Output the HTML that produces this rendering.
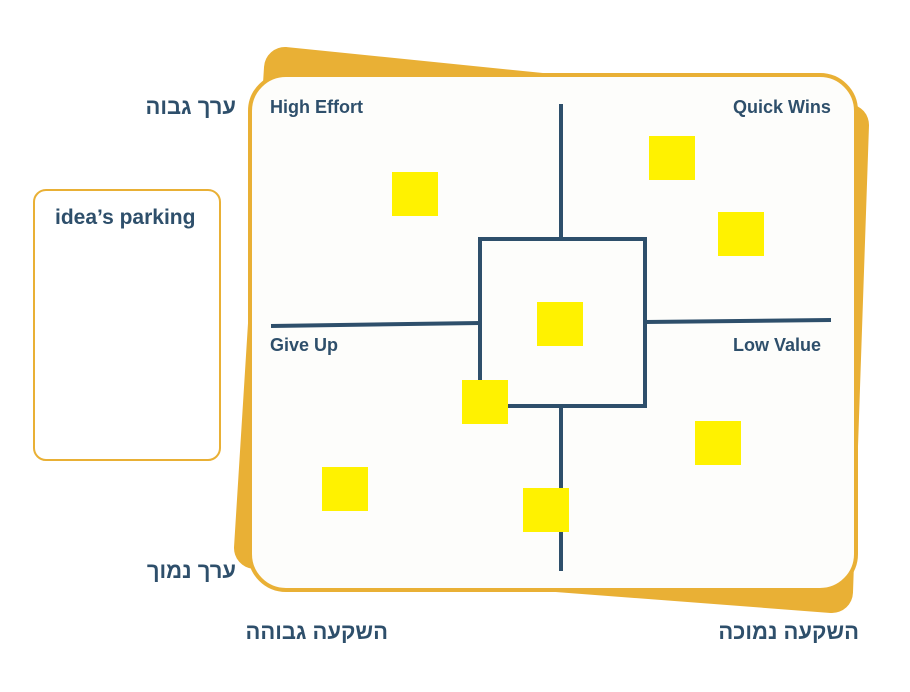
<!DOCTYPE html>
<html><head><meta charset="utf-8"><style>
body{margin:0;background:#fff;width:910px;height:692px;overflow:hidden;position:relative;font-family:"Liberation Sans","Noto Sans CJK JP",sans-serif;color:#2e4f6b}
.t{position:absolute;font-size:18px;font-weight:bold;white-space:nowrap}
.h{position:absolute;font-size:22px;font-weight:bold;white-space:nowrap;direction:rtl}
.s{position:absolute;width:46px;height:44px;background:#fff200}
</style></head><body>
<svg width="910" height="692" style="position:absolute;left:0;top:0">
<path d="M285,68 L848,125 L832,592 L255,548 Z" fill="#e9b035" stroke="#e9b035" stroke-width="42" stroke-linejoin="round"/>
<rect x="250" y="75" width="606" height="515" rx="36" fill="#fdfdfb" stroke="#e9b035" stroke-width="4"/>
<g stroke="#2e4f6b" stroke-width="4" fill="none">
<line x1="561" y1="104" x2="561" y2="239"/>
<line x1="561" y1="405" x2="561" y2="571"/>
<rect x="480" y="239" width="165" height="167"/>
<line x1="271" y1="326" x2="480" y2="323"/>
<line x1="645" y1="322" x2="831" y2="320"/>
</g>
<rect x="34" y="190" width="186" height="270" rx="12" fill="#fff" stroke="#e9b035" stroke-width="2"/>
</svg>
<div class="t" style="left:270px;top:97px">High Effort</div>
<div class="t" style="left:733px;top:97px">Quick Wins</div>
<div class="t" style="left:270px;top:335px">Give Up</div>
<div class="t" style="left:733px;top:335px">Low Value</div>
<div class="t" style="left:55px;top:206px;font-size:21px">idea’s parking</div>
<div class="h" style="right:674px;top:94px">ערך גבוה</div>
<div class="h" style="right:674px;top:558px">ערך נמוך</div>
<div class="h" style="left:245px;top:619px;width:143px">השקעה גבוהה</div>
<div class="h" style="left:716px;top:619px;width:143px">השקעה נמוכה</div>
<div class="s" style="left:392px;top:172px"></div>
<div class="s" style="left:649px;top:136px"></div>
<div class="s" style="left:718px;top:212px"></div>
<div class="s" style="left:537px;top:302px"></div>
<div class="s" style="left:462px;top:380px"></div>
<div class="s" style="left:322px;top:467px"></div>
<div class="s" style="left:523px;top:488px"></div>
<div class="s" style="left:695px;top:421px"></div>
</body></html>
